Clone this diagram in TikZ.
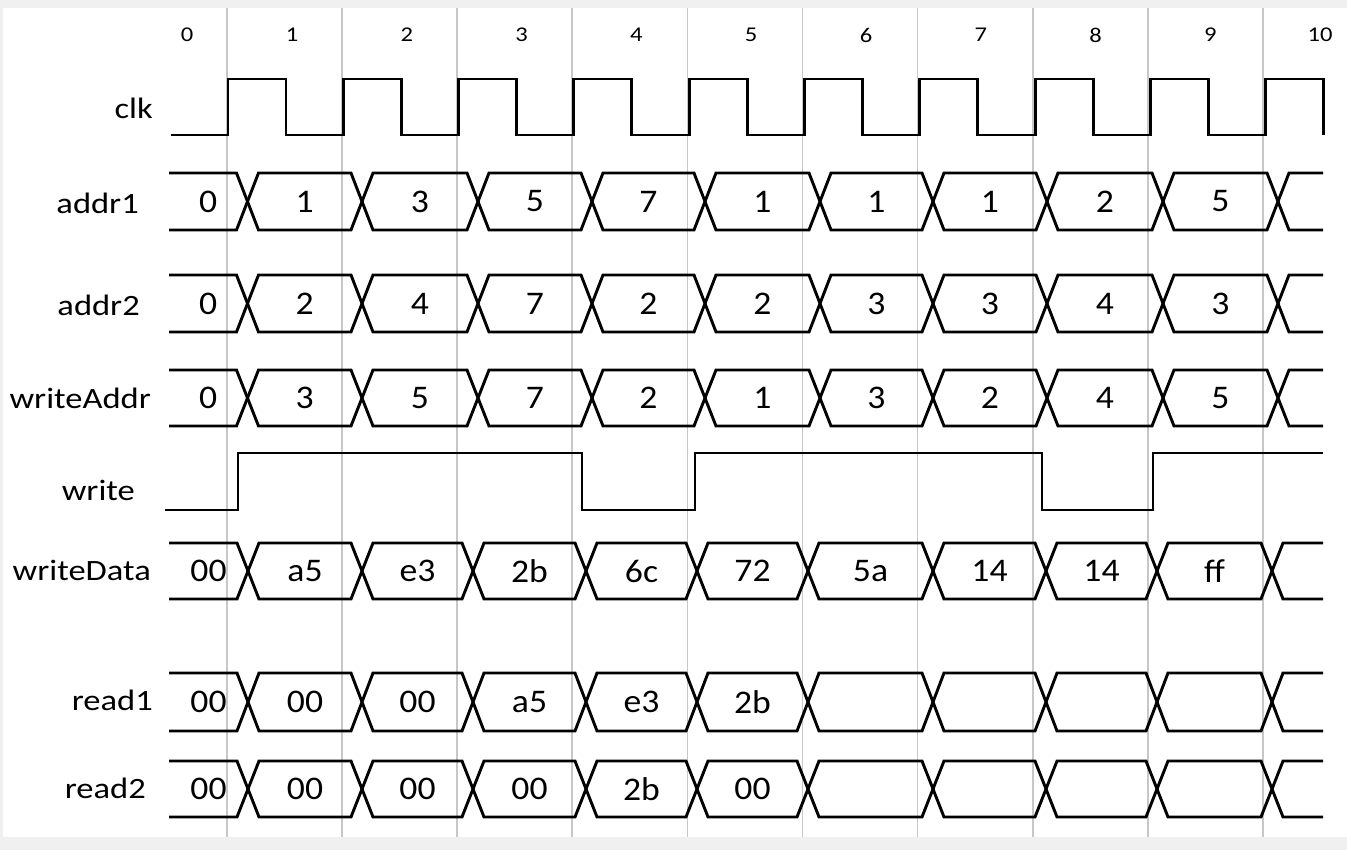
\documentclass[tikz,border=0pt]{standalone}
\usepackage{fontspec}
\setmainfont{Carlito}
\usepackage{graphicx}
\newcommand{\sx}[1]{\scalebox{1.17}[1]{#1}}
\newcommand{\vx}[1]{\scalebox{1.08}[1]{#1}}
\tikzset{
  wave/.style={line width=2.9pt, line join=miter},
  gridline/.style={draw=black!22, line width=1.7pt},
  lbl/.style={anchor=east, inner sep=0pt, font=\fontsize{29.5}{30}\selectfont},
  val/.style={inner sep=0pt, font=\fontsize{33}{34}\selectfont},
  num/.style={inner sep=0pt, font=\fontsize{21}{21}\selectfont},
}
% #1 name, #2 top y, #3 bottom y, #4 first centre, #5 first value, #6 list p/q/value, #7 last centre
\newcommand{\busrow}[7]{%
  \pgfmathsetmacro\ym{(#2+#3)/2}%
  \draw[wave] (169,#2) -- ({#4-11},#2) -- (#4,\ym) -- ({#4-11},#3) -- (169,#3);
  \node[val] (#1-0) at ({(169+#4)/2},\ym) {\vx{#5}};
  \foreach \p/\q/\vl [count=\i] in {#6} {
    \draw[wave] (\p,\ym) -- ({\p+11},#2) -- ({\q-11},#2) -- (\q,\ym) -- ({\q-11},#3) -- ({\p+11},#3) -- cycle;
    \ifx\vl\empty\else
      \node[val] (#1-\i) at ({(\p+\q)/2},\ym) {\vx{\vl}};
    \fi
  }
  \draw[wave] (1323,#2) -- ({#7+11},#2) -- (#7,\ym) -- ({#7+11},#3) -- (1323,#3);
}
\begin{document}
\begin{tikzpicture}[x=1pt,y=-1pt]
\useasboundingbox (0,0) rectangle (1347,850);
\fill[black!6] (0,0) rectangle (1347,850);
\fill[white] (3,8) rectangle (1347,837);

% grid lines
\foreach \k in {0,...,9} {
  \draw[gridline] ({227+115.1*\k},8) -- ({227+115.1*\k},837);
}

% column numbers
\node[num] (n0) at (187,35) {\sx{0}};
\foreach \k in {1,...,9} {
  \node[num] (n\k) at ({292+114.8*(\k-1)},35) {\sx{\k}};
}
\node[num] (n10) at (1320,35) {\sx{10}};

% signal names
\node[lbl] (lclk) at (153,108) {\sx{clk}};
\node[lbl] (laddr1) at (139,203) {\sx{addr1}};
\node[lbl] (laddr2) at (140,305) {\sx{addr2}};
\node[lbl] (lwaddr) at (151,398) {\sx{writeAddr}};
\node[lbl] (lwrite) at (135,490) {\sx{write}};
\node[lbl] (lwdata) at (151,570) {\sx{writeData}};
\node[lbl] (lread1) at (153,700) {\sx{read1}};
\node[lbl] (lread2) at (146,788) {\sx{read2}};

% clock
\draw[wave] (171,135) \foreach \k in {0,...,9} {
  -- ({228+115.3*\k},135) -- ({228+115.3*\k},79) -- ({286+115.3*\k},79) -- ({286+115.3*\k},135)
};

% buses
\busrow{addr1}{173}{230}{247.5}{0}{247.5/362/1, 362/478/3, 478/592/5, 592/705/7, 705/820/1, 820/933/1, 933/1047/1, 1047/1163/2, 1163/1278/5}{1278}
\busrow{addr2}{275}{332}{247.5}{0}{247.5/362/2, 362/478/4, 478/592/7, 592/705/2, 705/820/2, 820/933/3, 933/1047/3, 1047/1163/4, 1163/1278/3}{1278}
\busrow{waddr}{370}{426}{247.5}{0}{247.5/362/3, 362/478/5, 478/592/7, 592/705/2, 705/820/1, 820/933/3, 933/1047/2, 1047/1163/4, 1163/1278/5}{1278}

% write
\draw[wave] (165,510) -- (238,510) -- (238,453) -- (582,453) -- (582,510) -- (695,510) -- (695,453) -- (1042,453) -- (1042,510) -- (1153,510) -- (1153,453) -- (1323,453);

\busrow{wdata}{543}{599}{248}{00}{248/362/a5, 362/473/e3, 473/586/2b, 586/697/6c, 697/808/72, 808/933/5a, 933/1046/14, 1046/1157/14, 1157/1272/ff}{1272}
\busrow{read1}{673}{731}{248}{00}{248/362/00, 362/473/00, 473/586/a5, 586/697/e3, 697/808/2b, 808/933/, 933/1046/, 1046/1157/, 1157/1272/}{1272}
\busrow{read2}{761}{817}{248}{00}{248/362/00, 362/473/00, 473/586/00, 586/697/2b, 697/808/00, 808/933/, 933/1046/, 1046/1157/, 1157/1272/}{1272}
\end{tikzpicture}
\end{document}
